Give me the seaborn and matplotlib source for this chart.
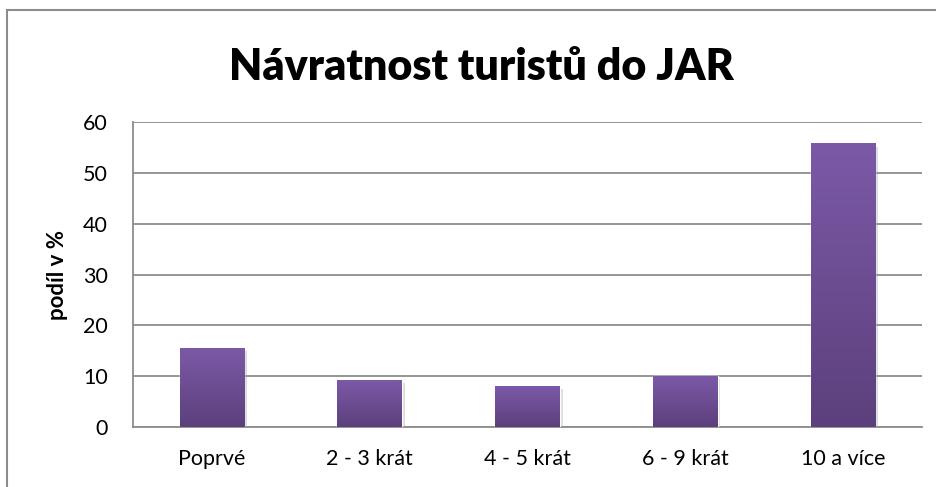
import matplotlib
matplotlib.use("Agg")
import matplotlib.pyplot as plt
import matplotlib.patheffects as pe
from matplotlib.colors import LinearSegmentedColormap
from matplotlib.patches import Rectangle
import seaborn as sns
import numpy as np
import pandas as pd

# data
categories = ["Poprvé", "2 - 3 krát", "4 - 5 krát", "6 - 9 krát", "10 a více"]
shares = [15.5, 9.2, 8.0, 10.0, 55.7]
y_ticks = [0, 10, 20, 30, 40, 50, 60]

title = "Návratnost turistů do JAR"
y_label = "podíl v %"

grid_color = "#8c8c8c"
bar_top = "#7c59a7"
bar_bottom = "#5c407c"

sns.set_theme(style="white")
plt.rcParams["font.family"] = ["Lato", "DejaVu Sans"]
plt.rcParams["text.color"] = "black"

df = pd.DataFrame({"kategorie": categories, "podil": shares})

fig = plt.figure(figsize=(9.37, 4.87), dpi=100)
ax = fig.add_axes([0.142, 0.123, 0.842, 0.626])

sns.barplot(data=df, x="kategorie", y="podil", color=bar_bottom,
            width=0.41, ax=ax, zorder=3)

# vertical gradient on every bar, plus a soft shadow
cmap = LinearSegmentedColormap.from_list("bar", [bar_bottom, bar_top])
grad = np.linspace(0, 1, 256).reshape(-1, 1)
for p in ax.patches:
    x0, w, h = p.get_x(), p.get_width(), p.get_height()
    p.set_path_effects([pe.SimplePatchShadow(offset=(2, -2), shadow_rgbFace="#9a9a9a", alpha=0.35),
                        pe.Normal()])
    ax.imshow(grad, extent=[x0, x0 + w, 0, h], origin="lower", cmap=cmap,
              aspect="auto", zorder=4)

ax.set_xlim(-0.5, len(categories) - 0.5)
ax.set_ylim(0, 60)
ax.set_yticks(y_ticks)
ax.yaxis.grid(True, color=grid_color, lw=1.3, zorder=0)
ax.set_axisbelow(True)

for side in ["top", "right"]:
    ax.spines[side].set_visible(False)
for side in ["left", "bottom"]:
    ax.spines[side].set_color(grid_color)
    ax.spines[side].set_linewidth(1.3)

ax.tick_params(axis="y", length=0, pad=18, labelsize=15.5, colors="black")
ax.tick_params(axis="x", length=0, pad=16, labelsize=15.5, colors="black")
ax.set_xlabel("")
ax.set_ylabel(y_label, fontsize=16, fontweight="bold", color="black")
ax.yaxis.set_label_coords(-0.082, 0.5)

fig.text(481 / 937, 1 - 80 / 487, title, ha="center", va="baseline",
         fontsize=31, fontweight="heavy", color="black")

# outer chart frame (only left and top edges fall inside the picture)
fig.add_artist(Rectangle((7 / 937, -0.5), 2, 1 - 10 / 487 + 0.5, transform=fig.transFigure,
                         fill=False, edgecolor=grid_color, lw=1.5))

fig.savefig("out.png", dpi=100, facecolor="white")
